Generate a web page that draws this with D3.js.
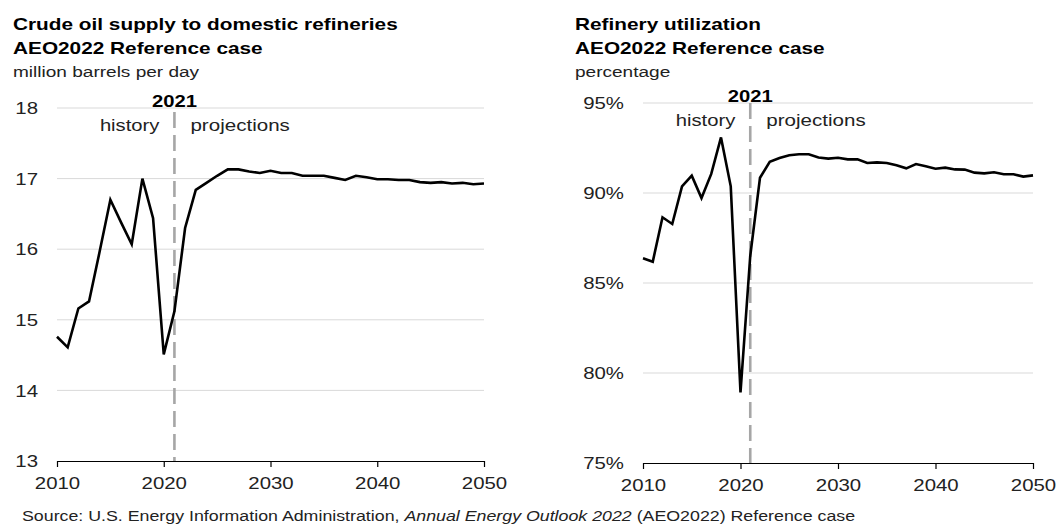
<!DOCTYPE html>
<html><head><meta charset="utf-8">
<script src="https://cdn.jsdelivr.net/npm/d3@7"></script>
<style>
html,body{margin:0;padding:0;background:#fff;}
svg{display:block;font-family:"Liberation Sans",Arial,sans-serif;}
</style></head>
<body>
<script>
const years = d3.range(2010, 2051);
const crudeSupply = [14.76,14.61,15.16,15.26,15.97,16.70,16.38,16.07,17.00,16.44,
  14.51,15.12,16.30,16.84,16.94,17.04,17.13,17.13,17.10,17.08,
  17.11,17.08,17.08,17.04,17.04,17.04,17.01,16.98,17.04,17.02,
  16.99,16.99,16.98,16.98,16.95,16.94,16.95,16.93,16.94,16.92,16.93];
const utilization = [86.37,86.18,88.65,88.28,90.37,90.96,89.72,91.06,93.09,90.37,
  78.92,86.5,90.85,91.73,91.94,92.1,92.15,92.15,91.97,91.91,
  91.96,91.87,91.87,91.67,91.70,91.67,91.54,91.37,91.61,91.48,
  91.35,91.41,91.31,91.30,91.13,91.09,91.15,91.04,91.04,90.91,90.98];
const xTicks = [2010,2020,2030,2040,2050];
const leftYTicks = [13,14,15,16,17,18];
const rightYTicks = [75,80,85,90,95];
const dividerYear = 2021;
const titles = [
  ["Crude oil supply to domestic refineries","AEO2022 Reference case","million barrels per day"],
  ["Refinery utilization","AEO2022 Reference case","percentage"]
];

const W = 1059, H = 527;
const svg = d3.select("body").append("svg").attr("width", W).attr("height", H);

function txt(parent, x, y, str, o){
  o = o || {};
  const g = parent.append("g").attr("transform", `translate(${x},${y}) scale(${o.sx||1},1)`);
  const t = g.append("text").attr("x",0).attr("y",0)
    .attr("text-anchor", o.anchor || "start")
    .attr("font-size", o.size || 17)
    .attr("font-weight", o.bold ? "bold" : "normal")
    .attr("fill", o.fill || "#222");
  if (o.dy) t.attr("dy", o.dy);
  if (str !== null) t.text(str);
  return t;
}

function panel(cfg){
  const g = svg.append("g");
  const x = d3.scaleLinear().domain([2010,2050]).range([cfg.x0, cfg.x1]);
  const y = d3.scaleLinear().domain(cfg.yDomain).range([cfg.yBottom, cfg.yTop]);

  // titles
  txt(g, cfg.tx, 30, cfg.titles[0], {size:16, bold:true, fill:"#000", sx:1.3});
  txt(g, cfg.tx, 54, cfg.titles[1], {size:16, bold:true, fill:"#000", sx:1.3});
  txt(g, cfg.tx, 77, cfg.titles[2], {size:15, fill:"#222", sx:1.27});

  // gridlines
  g.selectAll(".grid").data(cfg.yTicks.filter(t => t !== cfg.yDomain[0])).enter().append("line")
    .attr("x1", cfg.x0).attr("x2", cfg.x1)
    .attr("y1", d => y(d)).attr("y2", d => y(d))
    .attr("stroke", "#d9d9d9").attr("stroke-width", 1);

  // y labels
  cfg.yTicks.forEach(d => txt(g, cfg.x0 - 19, y(d), cfg.fmt(d), {anchor:"end", size:17, dy:"0.36em", sx:1.2}));

  // x axis
  const xa = g.append("g").attr("transform", `translate(0,${cfg.yBottom})`)
    .call(d3.axisBottom(x).tickValues(xTicks).tickFormat(d3.format("d")).tickSize(6).tickSizeOuter(0).tickPadding(10));
  xa.select(".domain").attr("stroke","#000").attr("stroke-width",1.2);
  xa.selectAll(".tick line").attr("stroke","#000").attr("stroke-width",1.2);
  xa.selectAll(".tick text").attr("font-size", 17).attr("fill","#222")
    .attr("font-family","Liberation Sans, Arial, sans-serif").attr("transform","scale(1.2,1)");

  // divider
  const dx = x(dividerYear);
  g.append("line").attr("x1", dx).attr("x2", dx).attr("y1", cfg.yTop + cfg.dashTop).attr("y2", cfg.yBottom)
    .attr("stroke","#a6a6a6").attr("stroke-width",2.6).attr("stroke-dasharray","16,7");
  txt(g, dx, cfg.yTop - 1, String(dividerYear), {anchor:"middle", size:17, bold:true, fill:"#000", sx:1.19});
  txt(g, dx - 15, cfg.yTop + 23, "history", {anchor:"end", size:17, sx:1.19});
  txt(g, dx + 16, cfg.yTop + 23, "projections", {anchor:"start", size:17, sx:1.21});

  // line
  const line = d3.line().x((d,i) => x(years[i])).y(d => y(d));
  g.append("path").datum(cfg.values).attr("d", line)
    .attr("fill","none").attr("stroke","#000").attr("stroke-width",2.6).attr("stroke-linejoin","miter");
}

panel({x0:57, x1:484, yTop:108, yBottom:461, yDomain:[13,18], yTicks:leftYTicks, fmt:d=>String(d),
  values:crudeSupply, titles:titles[0], tx:13, dashTop:4});
panel({x0:643, x1:1033, yTop:103, yBottom:463, yDomain:[75,95], yTicks:rightYTicks, fmt:d=>d+"%",
  values:utilization, titles:titles[1], tx:575, dashTop:0});

const src = txt(svg, 22, 521, null, {size:14, sx:1.27});
src.append("tspan").text("Source: U.S. Energy Information Administration, ");
src.append("tspan").attr("font-style","italic").text("Annual Energy Outlook 2022");
src.append("tspan").text(" (AEO2022) Reference case");
</script>
</body></html>
